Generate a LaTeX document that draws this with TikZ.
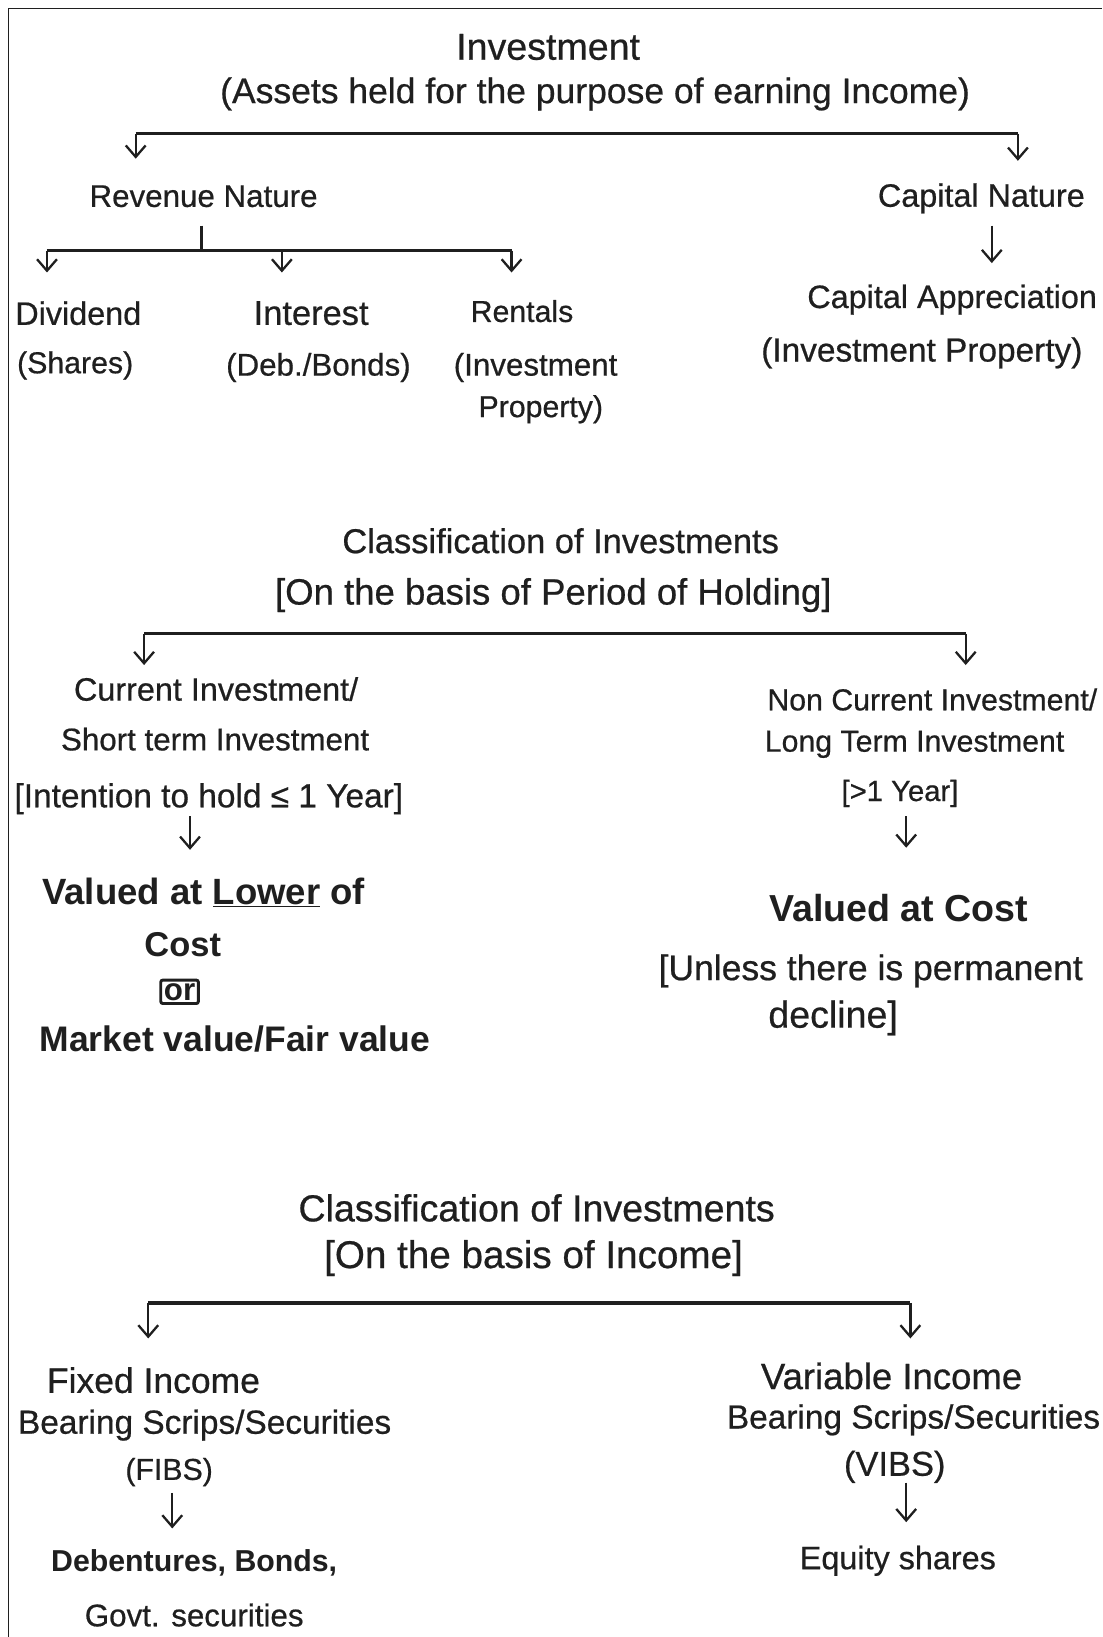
\documentclass[tikz,border=0pt]{standalone}
\usepackage{fontspec}
\setmainfont{Liberation Sans}
\newfontfamily\hand{Liberation Sans}[FakeBold=0.6]
\usetikzlibrary{arrows.meta}
\definecolor{ink}{gray}{0.12}
\begin{document}
\begin{tikzpicture}[x=1pt,y=-1pt,
  t/.style={font=\hand\fontsize{#1}{#1}\selectfont, text=ink, inner sep=0pt, align=center},
  b/.style={font=\normalfont\bfseries\fontsize{#1}{#1}\selectfont, text=ink, inner sep=0pt, align=center},
  bar/.style={line width=3.2pt, draw=ink},
  arr/.style={line width=2.2pt, draw=ink, -{Straight Barb[length=11pt,width=19pt,line width=2.2pt]}},
  link/.style={line width=2.2pt, draw=ink}]
\useasboundingbox (0,0) rectangle (1056,1568);
\fill[white] (0,0) rectangle (1056,1568);
\draw[line width=1.6pt, draw=ink] (8,1568) -- (8,8) -- (1056,8);

% ---------- Section 1 ----------
\node[t=36] (inv) at (525,45) {Investment};
\node[t=34] (invd) at (570,90) {(Assets held for the purpose of earning Income)};
\coordinate (b1l) at (130,128);
\coordinate (b1r) at (975,128);
\coordinate (b1le) at (130,152);
\coordinate (b1re) at (975,154);
\draw[bar] (b1l) -- (b1r);
\draw[arr] (b1l) -- (b1le);
\draw[arr] (b1r) -- (b1re);

\node[t=30] (rev) at (195,188) {Revenue Nature};
\node[t=31] (cap) at (940,190) {Capital Nature};

\coordinate (rs) at (193,216);
\coordinate (rj) at (193,240);
\coordinate (b2l) at (45,240);
\coordinate (b2m) at (270,240);
\coordinate (b2r) at (490,240);
\coordinate (b2le) at (45,261);
\coordinate (b2me) at (270,261);
\coordinate (b2re) at (490,261);
\draw[link] (rs) -- (rj);
\draw[bar] (b2l) -- (b2r);
\draw[arr] (b2l) -- (b2le);
\draw[arr] (b2m) -- (b2me);
\draw[arr] (b2r) -- (b2re);

\coordinate (cs) at (950,216);
\coordinate (ce) at (950,252);
\draw[arr] (cs) -- (ce);

\node[t=31] (div) at (75,300) {Dividend};
\node[t=29] (divs) at (72,350) {(Shares)};
\node[t=33] (int) at (298,300) {Interest};
\node[t=30] (ints) at (305,352) {(Deb./Bonds)};
\node[t=29] (ren) at (500,298) {Rentals};
\node[t=30] (ren2) at (513,352) {(Investment};
\node[t=29] (ren3) at (518,392) {Property)};
\node[t=31] (capa) at (912,287) {Capital Appreciation};
\node[t=32] (capb) at (883,338) {(Investment Property)};

% ---------- Section 2 ----------
\node[t=33] (cl1) at (537,518) {Classification of Investments};
\node[t=35] (cl1b) at (530,570) {[On the basis of Period of Holding]};
\coordinate (b3l) at (138,607);
\coordinate (b3r) at (925,607);
\coordinate (b3le) at (138,637);
\coordinate (b3re) at (925,637);
\draw[bar] (b3l) -- (b3r);
\draw[arr] (b3l) -- (b3le);
\draw[arr] (b3r) -- (b3re);

\node[t=31] (cur1) at (207,660) {Current Investment/};
\node[t=30] (cur2) at (206,708) {Short term Investment};
\node[t=32] (cur3) at (200,765) {[Intention to hold ≤ 1 Year]};
\coordinate (c1s) at (182,782);
\coordinate (c1e) at (182,814);
\draw[arr] (c1s) -- (c1e);
\node[b=35] (val1) at (195,855) {Valued at \underline{Lower} of};
\node[b=33] (val2) at (175,905) {Cost};
\node[b=30, draw=ink, line width=2.8pt, inner sep=3pt, rounded corners=2pt] (or) at (172,950) {or};
\node[b=34] (val3) at (225,995) {Market value/Fair value};

\node[t=29] (nc1) at (893,670) {Non Current Investment/};
\node[t=29] (nc2) at (876,713) {Long Term Investment};
\node[t=28] (nc3) at (862,760) {[>1 Year]};
\coordinate (c2s) at (868,782);
\coordinate (c2e) at (868,812);
\draw[arr] (c2s) -- (c2e);
\node[b=36] (vc) at (861,870) {Valued at Cost};
\node[t=34] (un1) at (834,930) {[Unless there is permanent};
\node[t=36] (un2) at (798,975) {decline]};

% ---------- Section 3 ----------
\node[t=36] (cl2) at (514,1157) {Classification of Investments};
\node[t=37] (cl2b) at (511,1205) {[On the basis of Income]};
\coordinate (b4l) at (142,1248);
\coordinate (b4r) at (872,1248);
\coordinate (b4le) at (142,1282);
\coordinate (b4re) at (872,1282);
\draw[bar] (b4l) -- (b4r);
\draw[arr] (b4l) -- (b4le);
\draw[arr] (b4r) -- (b4re);

\node[t=34] (fi1) at (147,1322) {Fixed Income};
\node[t=32] (fi2) at (196,1365) {Bearing Scrips/Securities};
\node[t=29] (fi3) at (162,1410) {(FIBS)};
\coordinate (c3s) at (165,1430);
\coordinate (c3e) at (165,1464);
\draw[arr] (c3s) -- (c3e);
\node[b=29] (deb1) at (186,1497) {Debentures, Bonds,};
\node[t=30] (deb2) at (186,1547) {Govt. securities};

\node[t=35] (vi1) at (854,1318) {Variable Income};
\node[t=32] (vi2) at (875,1360) {Bearing Scrips/Securities};
\node[t=33] (vi3) at (857,1405) {(VIBS)};
\coordinate (c4s) at (868,1420);
\coordinate (c4e) at (868,1458);
\draw[arr] (c4s) -- (c4e);
\node[t=31] (eq) at (860,1495) {Equity shares};
\end{tikzpicture}
\end{document}
